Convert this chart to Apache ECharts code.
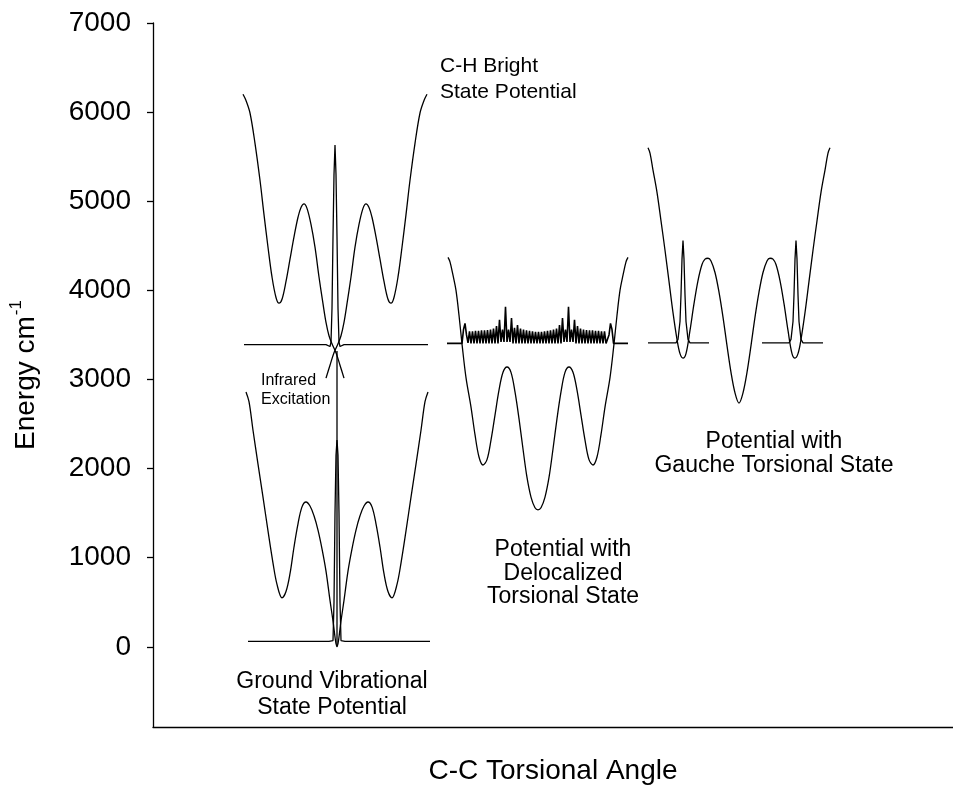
<!DOCTYPE html>
<html>
<head>
<meta charset="utf-8">
<script src="https://cdn.jsdelivr.net/npm/echarts@6/dist/echarts.min.js"></script>
<style>
  html, body { margin: 0; padding: 0; background: #fff; }
  #chart { width: 953px; height: 790px; }
</style>
</head>
<body>
<div id="chart"></div>
<script>
// Energy axis tick values (cm^-1)
const energyTicks = [0, 1000, 2000, 3000, 4000, 5000, 6000, 7000];

// C-H bright state potential: the two halves cross in the central well
const brightLeftX = [90,93,97,102,107,111,115,119,123,126,129,133,137,141,145,148,151,154,158,162,166,170,173,176,179,183,187,191];
const brightRightX = [274,271,267,262,257,253,249,245,241,238,235,231,227,223,219,216,213,210,206,202,198,194,191,188,185,181,177,173];
const brightY = [6200,6130,5990,5650,5235,4850,4484,4150,3920,3856,3900,4100,4350,4600,4820,4930,4970,4920,4740,4484,4150,3850,3640,3490,3400,3300,3160,3015];

// Bright-state wavefunction drawn at its energy level
const brightStateX = [91,173,175,177,178,179,180,181,182,183,184,185,186,187,189,191,275];
const brightStateY = [3390,3390,3380,3370,3420,3800,4600,5300,5630,5300,4600,3800,3420,3370,3380,3390,3390];

// Ground vibrational state potential
const groundX = [93,96,100,105,110,115,120,124,129,133,137,141,145,149,153,157,161,165,169,173,177,180,182,183,184,185,186,188,191,195,199,203,207,211,215,219,223,227,231,235,239,244,248,253,258,263,268,272,275];
const groundY = [2860,2750,2430,2050,1680,1300,940,700,550,620,820,1120,1380,1570,1625,1580,1470,1310,1100,850,520,290,110,35,0,35,110,290,520,850,1100,1310,1470,1580,1625,1570,1380,1120,820,620,550,700,940,1300,1680,2050,2430,2750,2860];

// Ground torsional state (trans) wavefunction
const groundStateX = [95,176,178,180,181,182,183,184,185,186,187,188,190,192,277];
const groundStateY = [60,60,50,70,500,1500,2150,2320,2150,1500,500,70,50,60,60];

// Infrared excitation arrow shaft
const irArrowX = [184, 184];
const irArrowY = [0, 3320];

// Potential with the delocalized torsional state
const delocPotX = [295,297,300,303,306,309,313,318,322,326,330,334,338,342,346,350,354,358,362,366,370,374,378,382,385,388,392,396,400,404,408,412,416,420,424,428,432,436,440,444,448,452,457,461,464,467,470,473,475];
const delocPotY = [4370,4320,4170,4000,3720,3400,3020,2690,2380,2130,2040,2100,2320,2600,2880,3080,3140,3080,2860,2560,2220,1900,1680,1560,1536,1560,1680,1900,2220,2560,2860,3080,3140,3080,2880,2600,2320,2100,2040,2130,2380,2690,3020,3400,3720,4000,4170,4320,4370];

// Delocalized torsional state (rapidly oscillating density)
const delocStateX = [294,309,310.5,312,313.5,315,316.5,318,319.5,321,322.5,324,325.5,327,328.5,330,331.5,333,334.5,336,337.5,339,340.5,342,343.5,345,346.5,348,349.5,351,352.5,354,355.5,357,358.5,360,361.5,363,364.5,366,367.5,369,370.5,372,373.5,375,376.5,378,379.5,381,382.5,384,385.5,387,388.5,390,391.5,393,394.5,396,397.5,399,400.5,402,403.5,405,406.5,408,409.5,411,412.5,414,415.5,417,418.5,420,421.5,423,424.5,426,427.5,429,430.5,432,433.5,435,436.5,438,439.5,441,442.5,444,445.5,447,448.5,450,451.5,453,454.5,456,457.5,459,460.5,475];
const delocStateY = [3405,3405,3560,3630,3500,3410,3540,3405,3540,3405,3545,3405,3545,3405,3550,3405,3550,3405,3555,3405,3560,3405,3570,3405,3600,3405,3670,3420,3560,3420,3815,3420,3560,3420,3690,3405,3580,3405,3610,3405,3570,3405,3560,3405,3550,3405,3545,3405,3540,3405,3535,3405,3535,3405,3535,3405,3540,3405,3545,3405,3550,3405,3560,3405,3570,3405,3610,3405,3690,3420,3560,3420,3815,3420,3560,3420,3670,3405,3600,3405,3570,3405,3560,3405,3555,3405,3550,3405,3550,3405,3545,3405,3545,3405,3540,3405,3540,3405,3410,3500,3630,3560,3405,3405];

// Potential with the gauche torsional state
const gauchePotX = [495,497,500,504,508,512,516,520,524,527,530,533,537,541,545,549,552,555,558,562,566,570,574,578,582,586,590,594,598,602,606,610,614,617,620,623,627,631,635,639,642,645,648,652,656,660,664,668,672,675,677];
const gauchePotY = [5600,5540,5350,5100,4780,4450,4100,3750,3450,3290,3240,3290,3550,3850,4110,4290,4350,4360,4330,4200,3980,3700,3380,3080,2850,2735,2850,3080,3380,3700,3980,4200,4330,4360,4350,4290,4110,3850,3550,3290,3240,3290,3450,3750,4100,4450,4780,5100,5350,5540,5600];

// Gauche states localized in the two side wells
const gaucheLeftX = [495,523,525,527,528,529,530,531,532,533,535,537,556];
const gaucheRightX = [609,636,638,640,641,642,643,644,645,646,648,650,670];
const gaucheStateY = [3410,3410,3450,3650,3950,4350,4560,4350,3950,3650,3450,3410,3410];

const FONT = '"Liberation Sans", Arial, Helvetica, sans-serif';

function pairs(xs, ys) {
  const n = Math.min(xs.length, ys.length);
  const out = [];
  for (let i = 0; i < n; i++) out.push([xs[i], ys[i]]);
  return out;
}

function curve(name, xs, ys, smooth, width) {
  return {
    name: name,
    type: 'line',
    data: pairs(xs, ys),
    smooth: smooth ? 0.35 : false,
    showSymbol: false,
    silent: true,
    lineStyle: { color: '#000', width: width || 1.3 },
    z: 3
  };
}

function label(x, y, text, size, lineHeight, align) {
  return {
    type: 'text', x: x, y: y,
    style: { text: text, fontFamily: FONT, fontSize: size, lineHeight: lineHeight, fill: '#000', align: align, verticalAlign: 'top' }
  };
}

const chart = echarts.init(document.getElementById('chart'), null, { renderer: 'canvas' });

chart.setOption({
  backgroundColor: '#fff',
  animation: false,
  grid: { left: 153, right: 0, top: 23, bottom: 63, containLabel: false },
  xAxis: {
    type: 'value',
    min: 0,
    max: 800,
    name: 'C-C Torsional Angle',
    nameLocation: 'middle',
    nameGap: 30,
    nameTextStyle: { fontFamily: FONT, fontSize: 28, color: '#000', verticalAlign: 'top' },
    axisLine: { show: true, onZero: false, lineStyle: { color: '#000', width: 1.3 } },
    axisTick: { show: false },
    axisLabel: { show: false },
    splitLine: { show: false }
  },
  yAxis: {
    type: 'value',
    min: -900,
    max: 7000,
    name: '{a|Energy cm}{b|-1}',
    nameLocation: 'middle',
    nameRotate: 90,
    nameGap: 108,
    nameTextStyle: {
      fontFamily: FONT, fontSize: 28, color: '#000',
      rich: {
        a: { fontFamily: FONT, fontSize: 28, color: '#000' },
        b: { fontFamily: FONT, fontSize: 17, color: '#000', padding: [0, 0, 20, 1] }
      }
    },
    axisLine: { show: true, onZero: false, lineStyle: { color: '#000', width: 1.3 } },
    axisTick: { show: true, inside: false, length: 6, customValues: energyTicks, lineStyle: { color: '#000', width: 1.3 } },
    axisLabel: {
      show: true, customValues: energyTicks, margin: 22,
      fontFamily: FONT, fontSize: 28, color: '#000',
      formatter: function (v) { return String(v); }
    },
    splitLine: { show: false }
  },
  graphic: [
    label(440, 53, 'C-H Bright\nState Potential', 21, 26, 'left'),
    label(261, 371, 'Infrared\nExcitation', 16, 19, 'left'),
    label(332, 669, 'Ground Vibrational\nState Potential', 23, 26, 'center'),
    label(563, 538, 'Potential with\nDelocalized\nTorsional State', 23, 23.5, 'center'),
    label(774, 429, 'Potential with\nGauche Torsional State', 23, 24.5, 'center')
  ],
  series: [
    curve('bright-left', brightLeftX, brightY, true),
    curve('bright-right', brightRightX, brightY, true),
    curve('bright-state', brightStateX, brightStateY, false),
    curve('ground', groundX, groundY, true),
    curve('ground-state', groundStateX, groundStateY, false),
    curve('ir-arrow', irArrowX, irArrowY, false),
    curve('deloc-potential', delocPotX, delocPotY, true),
    curve('deloc-state', delocStateX, delocStateY, false, 1.6),
    curve('gauche-potential', gauchePotX, gauchePotY, true),
    curve('gauche-left-state', gaucheLeftX, gaucheStateY, false),
    curve('gauche-right-state', gaucheRightX, gaucheStateY, false)
  ]
});
</script>
</body>
</html>
